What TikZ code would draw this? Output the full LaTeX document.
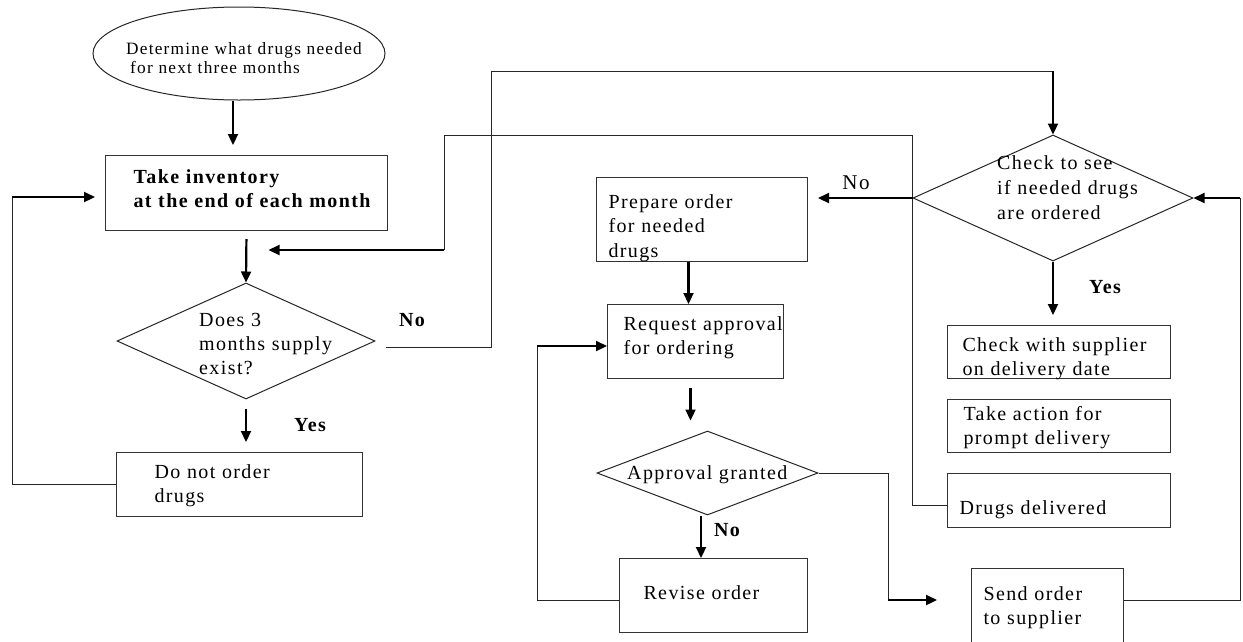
\documentclass[tikz,border=0pt]{standalone}
\usepackage{fontspec}
\setmainfont{Liberation Serif}[LetterSpace=7]
\usetikzlibrary{shapes.geometric,arrows.meta}
\begin{document}
\begin{tikzpicture}[x=1pt,y=-1pt,
  box/.style={draw=black!80, line width=1pt, rectangle, anchor=north west, inner ysep=0pt, align=left, font=\fontsize{20}{24.5}\selectfont},
  dia/.style={draw=black!85, line width=1pt, diamond, inner sep=0pt},
  txt/.style={inner sep=0pt, align=left, anchor=base west, font=\fontsize{20}{24.5}\selectfont},
  lbl/.style={inner sep=0pt, font=\fontsize{20}{24}\selectfont\bfseries},
  ln/.style={draw=black!85, line width=1pt},
  arr/.style={draw=black, line width=2.2pt, -{Triangle[length=11pt,width=10pt]}},
]
\path[use as bounding box, fill=white] (0,0) rectangle (1243,641);

% start ellipse
\node[ellipse, draw=black!85, line width=1pt, minimum width=292pt, minimum height=93pt, inner sep=0pt] (ell) at (239,53.5) {};
\node[txt, text width=260pt, font=\fontsize{17.3}{19}\selectfont] (ellt) at (126,54) {Determine what drugs needed\\\hspace*{4pt}for next three months};

% boxes
\node[box, text width=226pt, inner xsep=28pt, minimum height=75pt, text height=9.7pt, text depth=29.5pt, font=\fontsize{20}{24}\selectfont\bfseries] (ti) at (105,155) {\mbox{Take inventory}\\\mbox{at the end of each month}};
\node[box, text width=170pt, inner xsep=38pt, minimum height=64pt, text height=16.7pt, text depth=29.5pt] (dn) at (116,452) {\mbox{Do not order}\\\mbox{drugs}};
\node[box, text width=187pt, inner xsep=12pt, minimum height=84pt, text height=30.2pt, text depth=53pt] (po) at (596,177) {\mbox{Prepare order}\\\mbox{for needed}\\\mbox{drugs}};
\node[box, text width=144pt, inner xsep=16pt, minimum height=74pt, text height=6.7pt, text depth=29.5pt] (ra) at (607,304) {\mbox{Request approval}\\\mbox{for ordering}};
\node[box, text width=140pt, inner xsep=24pt, minimum height=74pt, text height=12.2pt, text depth=5pt] (ro) at (619,558) {\mbox{Revise order}};
\node[box, text width=128pt, inner xsep=12pt, minimum height=80pt, text height=12.7pt, text depth=29.5pt] (so) at (971,568) {\mbox{Send order}\\\mbox{to supplier}};
\node[box, text width=193pt, inner xsep=15pt, minimum height=53pt, text height=24.2pt, text depth=26pt] (cs) at (947,325) {\mbox{Check with supplier}\\\mbox{on delivery date}};
\node[box, text width=191pt, inner xsep=16pt, minimum height=53pt, text height=14.2pt, text depth=26pt] (ta) at (947,399) {\mbox{Take action for}\\\mbox{prompt delivery}};
\node[box, text width=199pt, inner xsep=12pt, minimum height=54pt, text height=27.2pt, text depth=0pt] (dd) at (947,473) {\mbox{Drugs delivered}};

% decisions
\node[dia, minimum width=258pt, minimum height=116pt] (d1) at (246,341) {};
\node[txt, text width=150pt, font=\fontsize{20}{24}\selectfont] (d1t) at (199,326.6) {Does 3\\months supply\\exist?};
\node[dia, minimum width=280pt, minimum height=126pt] (d2) at (1053,198) {};
\node[txt, text width=170pt, font=\fontsize{20}{25}\selectfont] (d2t) at (997,169.6) {Check to see\\if needed drugs\\are ordered};
\node[dia, minimum width=221pt, minimum height=84pt] (d3) at (707.5,473) {};
\node[txt] (d3t) at (627,479.6) {Approval granted};

% labels
\node[lbl] (no1) at (412,320) {No};
\node[lbl] (yes1) at (310,425) {Yes};
\node[lbl, font=\fontsize{21}{24}\selectfont] (no2) at (856,183) {No};
\node[lbl] (yes2) at (1105,287) {Yes};
\node[lbl] (no3) at (727,530) {No};

% helper coordinates
\coordinate (lt) at (12,197);
\coordinate (na) at (491,71);
\coordinate (nb) at (444,135);
\coordinate (nc) at (444,250);
\coordinate (lra) at (537,346);
\coordinate (sa) at (888,600);
\coordinate (rr) at (1240,600);

% connectors
\draw[arr, shorten >=10pt] ([xshift=-6pt]ell.south) -- ([xshift=-6pt]ell.south |- ti.north);
\draw[arr, shorten <=8pt] (ti.south) -- (d1.north);
\draw[arr, shorten <=9pt, shorten >=10pt] (d1.south) -- (d1.south |- dn.north);

\draw[ln] (dn.west) -| (lt);
\draw[arr, shorten >=10pt] (lt) -- (lt -| ti.west);

\draw[ln] ([shift={(10,6)}]d1.east) -| (na) -- (na -| d2.north);
\draw[arr] (na -| d2.north) -- (d2.north);

\draw[ln] ([yshift=-5pt]dd.west) -| (d2.west |- nb) -- (nb) -- (nc);
\draw[arr, shorten >=22pt] (nc) -- (nc -| ti.south);

\draw[arr, shorten >=10pt] (d2.west) -- (d2.west -| po.east);
\draw[arr] ([xshift=-13.5pt]po.south) -- ([xshift=-13.5pt]po.south |- ra.north);
\draw[arr, shorten <=9pt, shorten >=10pt] ([xshift=-5pt]ra.south) -- ([xshift=-5pt]ra.south |- d3.north);
\draw[arr] ([xshift=-6.5pt]d3.south) -- ([xshift=-6.5pt]d3.south |- ro.north);

\draw[ln] ([yshift=-5pt]ro.west) -| (lra);
\draw[arr] (lra) -- (lra -| ra.west);

\draw[ln] (d3.east) -| (sa);
\draw[arr, shorten >=34pt] (sa) -- (sa -| so.west);

\draw[ln] (so.east |- rr) -- (rr) -- (rr |- d2.east);
\draw[arr] (rr |- d2.east) -- (d2.east);

\draw[arr, shorten >=10pt] (d2.south) -- (d2.south |- cs.north);
\end{tikzpicture}
\end{document}
